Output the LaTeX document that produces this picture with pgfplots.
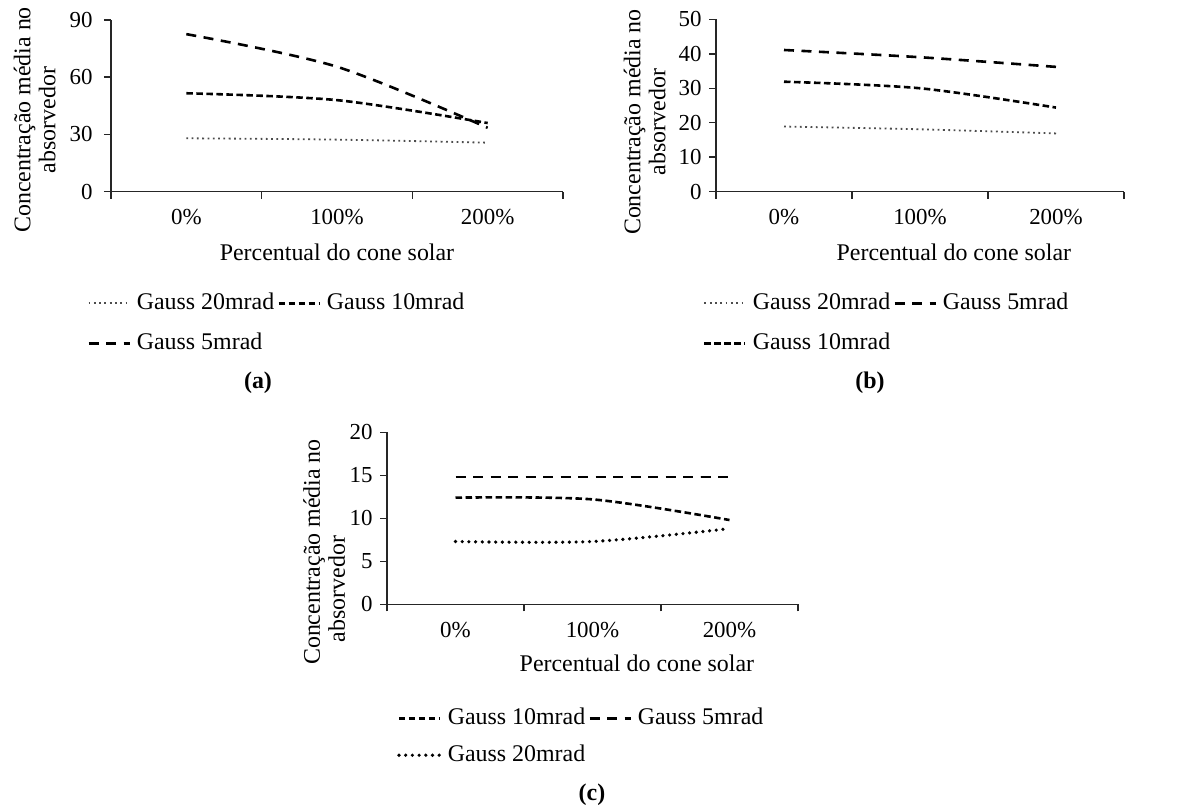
\documentclass[border=0pt]{standalone}
\usepackage{fontspec}
\setmainfont{Liberation Serif}
\usepackage{pgfplots}
\pgfplotsset{compat=1.18}

\newcommand{\bigf}{\fontsize{24}{25}\selectfont}
\newcommand{\tickf}{\fontsize{23}{24}\selectfont}

\pgfplotsset{
  panel/.style={
    scale only axis,
    axis x line*=bottom, axis y line*=left,
    xmin=0, xmax=3, ymin=0,
    xtick={0.5,1.5,2.5},
    xticklabels={0\%,100\%,200\%},
    minor xtick={0,1,2,3},
    major x tick style={draw=none},
    major tick length=7bp, minor tick length=7bp,
    tick align=outside,
    axis line style={line width=1.5bp, black!85, -},
    every tick/.style={line width=1.5bp, black!85},
    tick label style={font=\tickf},
    xticklabel style={yshift=-7bp},
    label style={font=\bigf},
    /pgf/number format/assume math mode=true,
    xlabel={Percentual do cone solar},
    ylabel={Concentração média no\\absorvedor},
    ylabel style={align=center, anchor=center},
    xlabel style={anchor=center},
    legend columns=2,
    legend cell align=left,
    legend style={draw=none, fill=none, inner sep=0pt, anchor=north west,
      font=\bigf, column sep=6bp, row sep=20bp,
      /tikz/every even column/.append style={column sep=3bp},
      nodes={inner sep=0pt, text height=16bp, text depth=4bp}},
    legend image code/.code={\draw[##1] (0bp,0bp) -- (41bp,0bp);},
    clip=false,
  },
  g20a/.style={line width=1.8bp, black!70, dash pattern=on 1.8bp off 3.5bp},
  g10/.style={line width=2.6bp, black, dash pattern=on 6.5bp off 3.5bp},
  g5/.style={line width=2.6bp, black, dash pattern=on 10bp off 7.5bp},
  g20c/.style={line width=3.6bp, black, line cap=round, dash pattern=on 0bp off 6.7bp},
}

\begin{document}
\begin{tikzpicture}
\useasboundingbox (0,0) rectangle (1177bp,-807bp);

% (a)
\begin{axis}[panel, at={(111bp,-191.7bp)}, anchor=south west,
  width=452bp, height=171.7bp, ymax=90, ytick={0,30,60,90},
  yticklabel style={xshift=-8bp},
  ylabel style={at={(axis description cs:-0.169,0.418)}},
  xlabel style={at={(axis description cs:0.5,-0.351)}},
  legend style={at={(axis description cs:-0.053,-0.590)}}]
\addplot[g20a, smooth] coordinates {(0.5,28.0) (1.5,27.3) (2.5,25.7)};
\addlegendentry{Gauss 20mrad}
\addplot[g10, smooth] coordinates {(0.5,51.6) (1.5,48.0) (2.5,36.0)};
\addlegendentry{Gauss 10mrad}
\addplot[g5, smooth] coordinates {(0.5,82.6) (1.5,65.5) (2.5,33.5)};
\addlegendentry{Gauss 5mrad}
\end{axis}

% (b)
\begin{axis}[panel, at={(716bp,-191.7bp)}, anchor=south west,
  width=408bp, height=172.4bp, ymax=50, ytick={0,10,20,30,40,50},
  yticklabel style={xshift=-4bp},
  ylabel style={at={(axis description cs:-0.175,0.404)}},
  xlabel style={at={(axis description cs:0.583,-0.35)}},
  legend style={at={(axis description cs:-0.0319,-0.588)}}]
\addplot[g20a, smooth] coordinates {(0.5,18.9) (1.5,18.1) (2.5,16.9)};
\addlegendentry{Gauss 20mrad}
\addplot[g5, smooth] coordinates {(0.5,41.1) (1.5,39.0) (2.5,36.2)};
\addlegendentry{Gauss 5mrad}
\addplot[g10, smooth] coordinates {(0.5,31.9) (1.5,30.0) (2.5,24.4)};
\addlegendentry{Gauss 10mrad}
\end{axis}

% (c)
\begin{axis}[panel, at={(387bp,-604.3bp)}, anchor=south west,
  width=411bp, height=172bp, ymax=20, ytick={0,5,10,15,20},
  yticklabel style={xshift=-4bp},
  ylabel={Concentração média no\\absorvedor\makebox[74bp]{}},
  ylabel style={at={(axis description cs:-0.153,0.304)}},
  xlabel style={at={(axis description cs:0.608,-0.341)}},
  legend style={at={(axis description cs:0.0243,-0.603)}, row sep=17bp}]
\addplot[g10, smooth] coordinates {(0.5,12.4) (1.5,12.2) (2.5,9.8)};
\addlegendentry{Gauss 10mrad}
\addplot[g5, smooth] coordinates {(0.5,14.8) (1.5,14.8) (2.5,14.8)};
\addlegendentry{Gauss 5mrad}
\addplot[g20c, smooth] coordinates {(0.5,7.3) (1.5,7.3) (2.5,8.8)};
\addlegendentry{Gauss 20mrad}
\end{axis}

\node[font=\bigf\bfseries] at (258bp,-383bp) {(a)};
\node[font=\bigf\bfseries] at (870bp,-383bp) {(b)};
\node[font=\bigf\bfseries] at (592bp,-795bp) {(c)};
\end{tikzpicture}
\end{document}
